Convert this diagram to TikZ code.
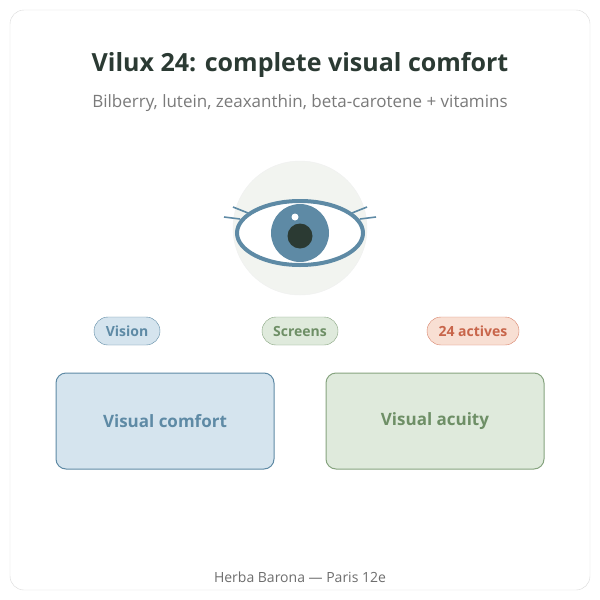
\documentclass[tikz,border=0pt]{standalone}
\usepackage{fontspec}
\setmainfont{Open Sans}
\usetikzlibrary{positioning}
\definecolor{inkdark}{HTML}{2B3A33}
\definecolor{inkgray}{HTML}{7A7A7A}
\definecolor{eyeblue}{HTML}{5E8AA5}
\definecolor{bluefill}{HTML}{D5E4EE}
\definecolor{greenline}{HTML}{86A47F}
\definecolor{greenfill}{HTML}{DFEADC}
\definecolor{greentext}{HTML}{6E8F66}
\definecolor{orangeline}{HTML}{D9826A}
\definecolor{orangefill}{HTML}{F8DFD3}
\definecolor{orangetext}{HTML}{C8654A}
\definecolor{halo}{HTML}{F2F4F0}
\begin{document}
\begin{tikzpicture}[x=1pt,y=-1pt]
	\tikzstyle{Pill}	= [rounded corners=14pt, draw, minimum height=28pt, inner sep=0pt, font=\bfseries\fontsize{14}{16}\selectfont]
	\tikzstyle{Card}	= [rounded corners=10pt, draw, line width=1pt, minimum width=218pt, minimum height=96pt, font=\bfseries\fontsize{17}{20}\selectfont]
	\tikzstyle{Lash}	= [eyeblue, line width=1.6pt]

	\useasboundingbox (0,0) rectangle (600,600);
	\draw [rounded corners=14pt, gray!30, fill=white] (10,10) rectangle (590,590);

	\node (title) at (300,65) [inkdark, font=\bfseries\fontsize{25}{30}\selectfont] {Vilux 24: complete visual comfort};
	\node (subtitle) at (300,103) [inkgray, font=\fontsize{17}{20}\selectfont] {Bilberry, lutein, zeaxanthin, beta-carotene + vitamins};

	% eye
	\fill [halo, draw=gray!12] (300,228) circle (67);
	\draw [eyeblue, line width=4pt, fill=white] (300,233) ellipse (63 and 32);
	\fill [eyeblue] (300,233) circle (29);
	\fill [inkdark] (300,236) circle (12.5);
	\fill [white] (295,217) circle (3.5);
	\draw [Lash] (233,207) -- (248,213);
	\draw [Lash] (224,217) -- (240,219);
	\draw [Lash] (367,207) -- (352,213);
	\draw [Lash] (376,217) -- (360,219);

	\node (vision) at (127,331) [Pill, minimum width=66pt, draw=eyeblue, fill=bluefill, text=eyeblue] {Vision};
	\node (screens) at (300,331) [Pill, minimum width=76pt, draw=greenline, fill=greenfill, text=greentext] {Screens};
	\node (actives) at (473,331) [Pill, minimum width=92pt, draw=orangeline, fill=orangefill, text=orangetext] {24 actives};

	\node (comfort) at (165,421) [Card, draw=eyeblue, fill=bluefill, text=eyeblue] {Visual comfort};
	\node (acuity) at (435,421) [Card, draw=greenline, fill=greenfill, text=greentext] {Visual acuity};

	\node (footer) at (300,577) [inkgray!90!black, font=\fontsize{14}{16}\selectfont] {Herba Barona — Paris 12e};
\end{tikzpicture}
\end{document}
